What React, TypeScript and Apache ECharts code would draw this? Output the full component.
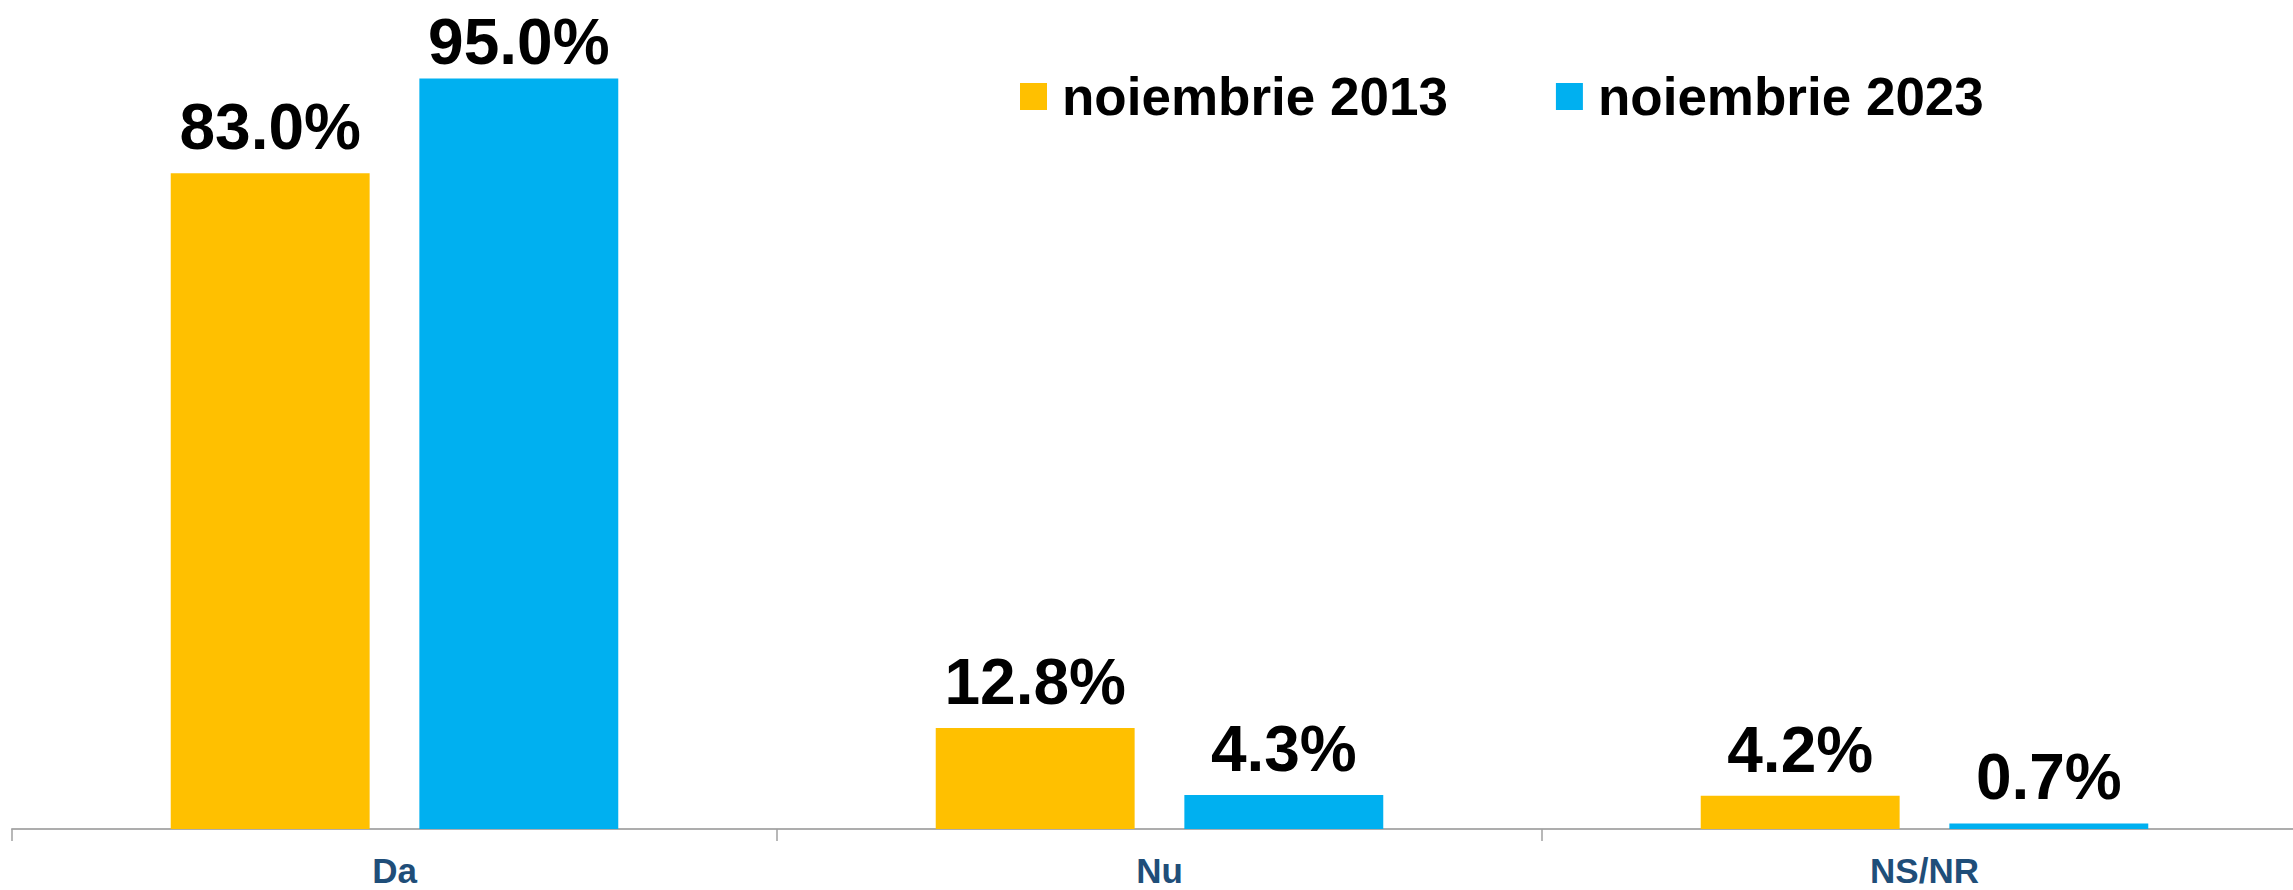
import React, { useEffect, useRef } from "react";
import * as echarts from "echarts";

const categories = ["Da", "Nu", "NS/NR"];
const seriesNames = ["noiembrie 2013", "noiembrie 2023"];
const values2013 = [83.0, 12.8, 4.2];
const values2023 = [95.0, 4.3, 0.7];

const FONT = "'Liberation Sans', Arial, sans-serif";

export default function App() {
  const ref = useRef<HTMLDivElement>(null);
  useEffect(() => {
    if (!ref.current) return;
    const chart = echarts.init(ref.current, null, { renderer: "svg" });
    const labelCfg = {
      show: true,
      position: "top",
      distance: 14,
      formatter: (p: any) => Number(p.value).toFixed(1) + "%",
      color: "#000000",
      fontFamily: FONT,
      fontWeight: "bold",
      fontSize: 64,
    };
    chart.setOption({
      animation: false,
      backgroundColor: "#ffffff",
      legend: {
        data: seriesNames,
        left: 1020,
        top: 70,
        padding: 0,
        itemWidth: 27,
        itemHeight: 27,
        itemGap: 108,
        icon: "rect",
        textStyle: {
          fontFamily: FONT,
          fontWeight: "bold",
          fontSize: 53,
          color: "#000000",
          padding: [0, 0, 0, 10],
        },
      },
      grid: {
        left: 12,
        right: -14,
        top: 39,
        bottom: 61,
        outerBoundsMode: "none",
      },
      xAxis: {
        type: "category",
        data: categories,
        axisLine: { show: true, lineStyle: { color: "#ADADAD", width: 2 } },
        axisTick: { show: true, length: 12, lineStyle: { color: "#A0A0A0", width: 1.5 } },
        axisLabel: {
          margin: 24,
          color: "#1F4E79",
          fontFamily: FONT,
          fontWeight: "bold",
          fontSize: 35,
        },
      },
      yAxis: {
        type: "value",
        min: 0,
        max: 100,
        show: false,
        splitLine: { show: false },
      },
      series: [
        {
          name: seriesNames[0],
          type: "bar",
          data: values2013,
          barWidth: "26%",
          barGap: "25%",
          itemStyle: { color: "#FFC000" },
          label: labelCfg,
        },
        {
          name: seriesNames[1],
          type: "bar",
          data: values2023.map((v, i) =>
            i === 0 ? { value: v, label: { distance: 5 } } : v
          ),
          barWidth: "26%",
          barGap: "25%",
          itemStyle: { color: "#00B0F0" },
          label: labelCfg,
        },
      ],
    });
    return () => chart.dispose();
  }, []);
  return (
    <div
      ref={ref}
      style={{ position: "absolute", left: 0, top: 0, width: 2293, height: 890 }}
    />
  );
}
